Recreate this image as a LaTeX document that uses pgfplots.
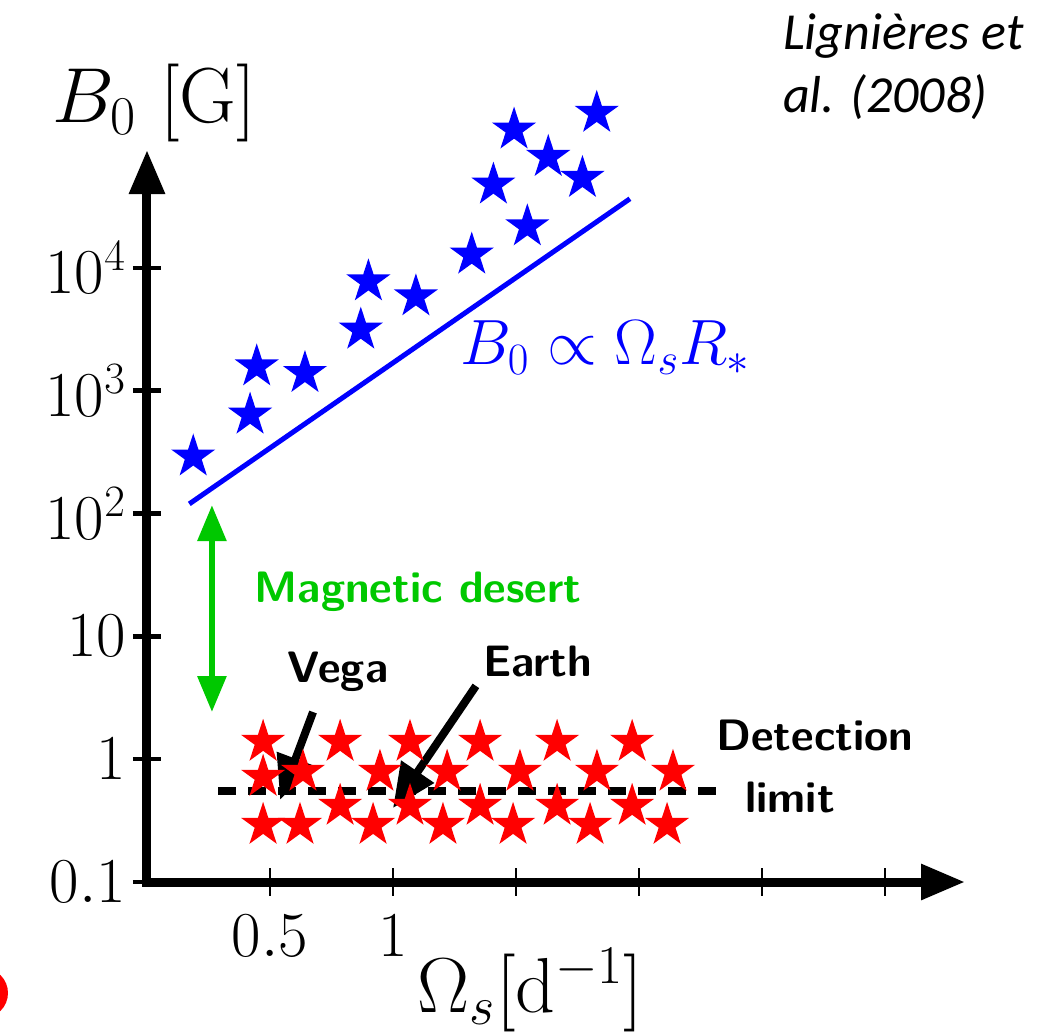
\RequirePackage{fix-cm}
\documentclass[border=0pt]{standalone}
\usepackage{fontspec}
\newfontfamily\carlito{Carlito}
\usepackage{pgfplots}
\pgfplotsset{compat=1.18}
\usetikzlibrary{arrows.meta}

\definecolor{mgreen}{RGB}{0,200,0}

\pgfdeclareplotmark{fstar}{%
  \pgfpathmoveto{\pgfpointpolar{90}{\pgfplotmarksize}}%
  \pgfpathlineto{\pgfpointpolar{126}{0.382*\pgfplotmarksize}}%
  \pgfpathlineto{\pgfpointpolar{162}{\pgfplotmarksize}}%
  \pgfpathlineto{\pgfpointpolar{198}{0.382*\pgfplotmarksize}}%
  \pgfpathlineto{\pgfpointpolar{234}{\pgfplotmarksize}}%
  \pgfpathlineto{\pgfpointpolar{270}{0.382*\pgfplotmarksize}}%
  \pgfpathlineto{\pgfpointpolar{306}{\pgfplotmarksize}}%
  \pgfpathlineto{\pgfpointpolar{342}{0.382*\pgfplotmarksize}}%
  \pgfpathlineto{\pgfpointpolar{18}{\pgfplotmarksize}}%
  \pgfpathlineto{\pgfpointpolar{54}{0.382*\pgfplotmarksize}}%
  \pgfpathclose
  \pgfusepathqfill
}

\begin{document}
\begin{tikzpicture}
\begin{axis}[
  scale only axis, width=409pt, height=366pt,
  xmin=0, xmax=3.325, ymode=log, ymin=0.1, ymax=9.1e4,
  axis lines=left,
  axis line style={line width=4.5pt, line cap=rect, -{Triangle[length=22pt,width=17pt]}},
  clip=false,
  xtick={0.5,1,1.5,2,2.5,3}, xticklabels={$0.5$,$1$,,,,},
  ytick={0.1,1,10,100,1000,10000},
  yticklabels={$0.1$,$1$,$10$,$10^2$,$10^3$,$10^4$},
  yminorticks=false, xminorticks=false,
  tick align=center, major tick length=14pt,
  xtick style={line width=1.2pt, black},
  ytick style={line width=2.2pt, black},
  tick label style={font=\fontsize{32}{38}\selectfont},
  xticklabel style={yshift=-6pt},
]
% red stars (weak-field stars)
\addplot[only marks, mark=fstar, mark size=11.6pt, red] coordinates {
  (0.472,1.38) (0.785,1.38) (1.069,1.38) (1.354,1.38) (1.667,1.38) (1.972,1.38)
  (0.472,0.716) (0.634,0.787) (0.947,0.787) (1.220,0.787) (1.516,0.787) (1.829,0.787) (2.138,0.787)
  (0.785,0.416) (1.069,0.416) (1.354,0.416) (1.667,0.416) (1.972,0.416)
  (0.472,0.291) (0.622,0.291) (0.919,0.291) (1.203,0.291) (1.488,0.291) (1.801,0.291) (2.114,0.291)
};
% detection limit
\addplot[black, line width=4pt, dash pattern=on 9pt off 6pt, no marks] coordinates {(0.289,0.553) (2.321,0.553)};
% blue stars (Ap/Bp)
\addplot[only marks, mark=fstar, mark size=11.6pt, blue] coordinates {
  (0.188,290) (0.419,635) (0.446,1570) (0.642,1387) (0.869,3126) (0.900,7727)
  (1.093,5834) (1.320,12760) (1.408,47430) (1.492,133000) (1.546,21680)
  (1.631,79620) (1.770,53700) (1.828,182000)
};
% scaling line
\addplot[blue, line width=2.5pt, no marks] coordinates {(0.172,119.7) (1.963,36480)};

\node[anchor=base west, text=blue, font=\fontsize{32}{38}\selectfont] at (axis cs:1.245,1622) {$B_0 \propto \Omega_s R_*$};

\draw[mgreen, line width=3pt, {Triangle[length=18pt,width=14pt]}-{Triangle[length=18pt,width=14pt]}] (axis cs:0.264,117) -- (axis cs:0.264,2.42);
\node[anchor=west, text=mgreen, font=\sffamily\bfseries\fontsize{22}{26}\selectfont] at (axis cs:0.410,23.0) {Magnetic desert};

\node[font=\sffamily\bfseries\fontsize{22}{26}\selectfont] at (axis cs:0.776,5.13) {Vega};
\node[font=\sffamily\bfseries\fontsize{22}{26}\selectfont] at (axis cs:1.589,6.19) {Earth};
\node[font=\sffamily\bfseries\fontsize{22}{26}\selectfont] at (axis cs:2.715,1.57) {Detection};
\node[font=\sffamily\bfseries\fontsize{22}{26}\selectfont] at (axis cs:2.614,0.492) {limit};

\draw[black, line width=4pt, -{Triangle[length=22pt,width=19pt]}] (axis cs:0.675,2.42) -- (axis cs:0.541,0.466);
\draw[black, line width=4pt, -{Triangle[length=22pt,width=19pt]}] (axis cs:1.337,3.95) -- (axis cs:1.0,0.40);

\node[anchor=base, font=\fontsize{39}{46}\selectfont] at (rel axis cs:0.009,1.037) {$B_0$ [G]};
\node[anchor=base, font=\fontsize{39}{46}\selectfont] at (rel axis cs:0.469,-0.178) {$\Omega_s[\mathrm{d}^{-1}]$};

\node[anchor=base west, font=\carlito\itshape\fontsize{26}{32}\selectfont] at (rel axis cs:0.769,1.137) {Lignières et};
\node[anchor=base west, font=\carlito\itshape\fontsize{26}{32}\selectfont] at (rel axis cs:0.769,1.051) {al. (2008)};
\end{axis}
\fill[red] (-82pt,-55.5pt) circle (12.5pt);
\pgfresetboundingbox
\path[use as bounding box] (-73.5pt,-76pt) rectangle (450.5pt,441pt);
\end{tikzpicture}
\end{document}
